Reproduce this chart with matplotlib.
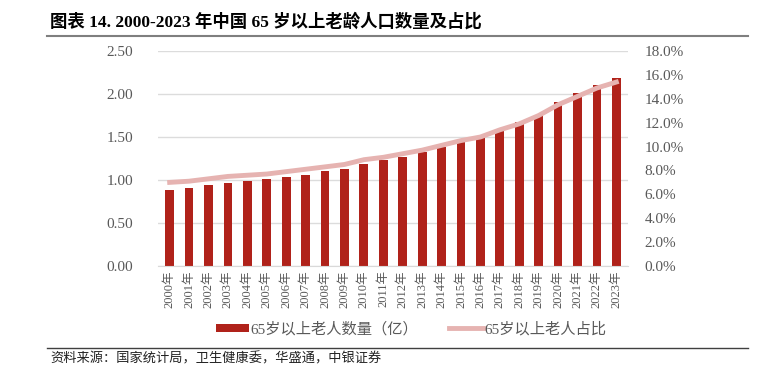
import matplotlib.pyplot as plt
import numpy as np

plt.rcParams['font.family'] = ['Liberation Serif', 'Noto Sans CJK SC']

years = [f"{y}年" for y in range(2000, 2024)]
elderly = [0.88, 0.91, 0.94, 0.97, 0.99, 1.01, 1.04, 1.06, 1.10, 1.13, 1.19, 1.23,
           1.27, 1.32, 1.38, 1.44, 1.50, 1.58, 1.67, 1.76, 1.91, 2.01, 2.10, 2.19]
share = [7.0, 7.1, 7.3, 7.5, 7.6, 7.7, 7.9, 8.1, 8.3, 8.5, 8.9, 9.1,
         9.4, 9.7, 10.1, 10.5, 10.8, 11.4, 11.9, 12.6, 13.5, 14.2, 14.9, 15.4]

bar_color = '#b0221a'
line_color = '#e6b3b1'
grey = '#595959'

fig = plt.figure(figsize=(7.64, 3.70), dpi=100)
ax = fig.add_axes([158/764, 1-266/370, 470/764, 215/370])
ax2 = ax.twinx()

x = np.arange(len(years))
b = ax.bar(x, elderly, width=0.45, color=bar_color, zorder=2)
l, = ax2.plot(x, share, color=line_color, lw=3.5, zorder=3)

ax.set_ylim(0, 2.5)
ax.set_yticks(np.arange(0, 2.51, 0.5))
ax.set_yticklabels([f"{v:.2f}" for v in np.arange(0, 2.51, 0.5)])
ax2.set_ylim(0, 18)
ax2.set_yticks(np.arange(0, 18.1, 2))
ax2.set_yticklabels([f"{v:.1f}%" for v in np.arange(0, 18.1, 2)])
ax.set_xlim(-0.6, len(years) - 0.4)
ax.set_xticks(x)
ax.set_xticklabels(years, rotation=90)

ax.yaxis.grid(True, color='#dcdcdc', lw=1, zorder=0)
ax.set_axisbelow(True)
for a in (ax, ax2):
    for s in a.spines.values():
        s.set_visible(False)
    a.tick_params(length=0, labelsize=11, colors=grey)
ax.tick_params(axis='x', labelsize=9, pad=3)
ax.tick_params(axis='y', pad=18)
ax2.tick_params(axis='y', pad=12)
ax.spines['bottom'].set_visible(True)
ax.spines['bottom'].set_color('#d9d9d9')

# line above bars
ax.set_zorder(1)
ax2.set_zorder(2)

fig.legend([b, l], ['65岁以上老人数量（亿）', '65岁以上老人占比'], loc='center',
           bbox_to_anchor=(411/764, 1-329/370), ncol=2, frameon=False,
           fontsize=11, labelcolor=grey, handlelength=2.2, handletextpad=0.1,
           columnspacing=2.0, handleheight=0.5)

fig.text(50/764, 1-22/370, '图表 14. 2000-2023 年中国 65 岁以上老龄人口数量及占比',
         fontsize=12.5, fontweight='bold', va='center', ha='left')
fig.add_artist(plt.Line2D([47/764, 748/764], [1-36/370, 1-36/370], color='#7f7f7f', lw=1.5))
fig.add_artist(plt.Line2D([47/764, 748/764], [1-348/370, 1-348/370], color='#404040', lw=1))
fig.text(50/764, 1-359/370, '资料来源：国家统计局，卫生健康委，华盛通，中银证券',
         fontsize=9.5, style='italic', va='center', ha='left', color='#222222')

fig.savefig('out.png', dpi=100)
